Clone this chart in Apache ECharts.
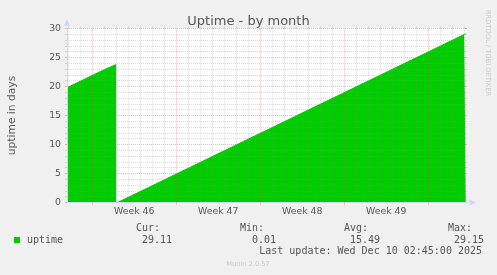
<!DOCTYPE html>
<html>
<head>
<meta charset="utf-8">
<script src="https://cdn.jsdelivr.net/npm/echarts@6/dist/echarts.min.js"></script>
<style>
html,body{margin:0;padding:0;background:#f0f0f0;}
#c{width:497px;height:275px;}
</style>
</head>
<body>
<div id="c"></div>
<script>
// time in days relative to start of Week 46
var days = [-2.1, -1, 0, 1, 2.0, 2.06, 2.12, 3, 4, 5, 6, 7, 8, 9, 10, 11, 12, 13, 14, 15, 16, 17, 18, 19, 20, 21, 22, 23, 24, 25, 26, 27, 28, 29, 30, 31, 31.13];
var uptime = [19.8, 20.9, 21.9, 22.9, 23.8, null, 0.01, 0.89, 1.89, 2.89, 3.90, 4.90, 5.90, 6.91, 7.91, 8.91, 9.91, 10.92, 11.92, 12.92, 13.93, 14.93, 15.93, 16.94, 17.94, 18.94, 19.94, 20.95, 21.95, 22.95, 23.96, 24.96, 25.96, 26.96, 27.97, 28.97, 29.11];
var weekStarts = [0, 7, 14, 21, 28];
var weekLabelPos = [3.5, 10.5, 17.5, 24.5];
var weekLabels = ['Week 46', 'Week 47', 'Week 48', 'Week 49'];
var dayLines = [-2, -1, 1, 2, 3, 4, 5, 6, 8, 9, 10, 11, 12, 13, 15, 16, 17, 18, 19, 20, 22, 23, 24, 25, 26, 27, 29, 30, 31];
var yTicks = [0, 5, 10, 15, 20, 25, 30];
var statHeaders = ['Cur:', 'Min:', 'Avg:', 'Max:'];
var statValues = ['29.11', '0.01', '15.49', '29.15'];
var seriesName = 'uptime';
var lastUpdate = 'Last update: Wed Dec 10 02:45:00 2025';

var X_MIN = -2.1, X_MAX = 31.233;
var MAJ = 'rgba(222,80,80,0.4)';
var MIN = 'rgba(143,143,143,0.32)';
var AX = '#CFD6F8';
var FONT = '#555555';

var data = days.map(function (d, i) { return [d, uptime[i]]; });

var graphics = [];
graphics.push({ type: 'rect', shape: { x: 14, y: 237, width: 6, height: 6 }, style: { fill: '#00CC00' } });
graphics.push({ type: 'text', style: { text: seriesName, x: 27, y: 240, font: '10px "DejaVu Sans Mono"', fill: FONT, verticalAlign: 'middle' } });
statHeaders.forEach(function (h, i) {
  graphics.push({ type: 'text', style: { text: h, x: 136 + 104 * i, y: 228, font: '10px "DejaVu Sans Mono"', fill: FONT, verticalAlign: 'middle' } });
  graphics.push({ type: 'text', style: { text: statValues[i], x: 172 + 104 * i, y: 240, font: '10px "DejaVu Sans Mono"', fill: FONT, align: 'right', verticalAlign: 'middle' } });
});
graphics.push({ type: 'text', style: { text: lastUpdate, x: 482, y: 251, font: '10px "DejaVu Sans Mono"', fill: FONT, align: 'right', verticalAlign: 'middle' } });
graphics.push({ type: 'text', style: { text: 'Munin 2.0.57', x: 248, y: 264.5, font: '6.7px "DejaVu Sans"', fill: '#c8c8c8', align: 'center', verticalAlign: 'middle' } });
graphics.push({ type: 'text', x: 488, y: 53, rotation: -Math.PI / 2, style: { text: 'RRDTOOL / TOBI OETIKER', x: 0, y: 0, font: '6.7px "DejaVu Sans"', fill: '#c8c8c8', align: 'center', verticalAlign: 'middle' } });

var chart = echarts.init(document.getElementById('c'), null, { renderer: 'canvas' });
chart.setOption({
  animation: false,
  backgroundColor: '#f0f0f0',
  title: {
    text: 'Uptime - by month', left: 'center', top: 10,
    textStyle: { fontFamily: 'DejaVu Sans', fontSize: 13, fontWeight: 'normal', color: FONT }
  },
  grid: { left: 67, right: 30, top: 28.5, bottom: 72.5, show: true, backgroundColor: '#ffffff', borderWidth: 0,
    containLabel: false, outerBoundsMode: 'none' },
  xAxis: [{
    type: 'value', min: X_MIN, max: X_MAX,
    axisLine: { show: true, onZero: false, lineStyle: { color: AX, width: 1 }, symbol: ['none', 'triangle'], symbolSize: [6, 7], symbolOffset: [0, 6] },
    axisTick: { show: true, customValues: weekStarts, length: 2, lineStyle: { color: MAJ } },
    axisLabel: { show: true, customValues: weekLabelPos, margin: 5, fontFamily: 'DejaVu Sans', fontSize: 9.3, color: FONT,
      formatter: function (v) { var i = weekLabelPos.indexOf(v); return i >= 0 ? weekLabels[i] : ''; } },
    splitLine: { show: true, lineStyle: { color: MAJ, type: [1, 1], width: 1 } },
    z: 3
  }, {
    type: 'value', min: X_MIN, max: X_MAX,
    axisLine: { show: false, onZero: false },
    axisTick: { show: true, customValues: dayLines, length: 2, lineStyle: { color: MIN } },
    axisLabel: { show: false },
    splitLine: { show: true, lineStyle: { color: MIN, type: [1, 1], width: 1 } },
    z: 2
  }],
  yAxis: [{
    type: 'value', min: 0, max: 30, interval: 5,
    name: 'uptime in days', nameLocation: 'middle', nameGap: 49, nameRotate: 90,
    nameTextStyle: { fontFamily: 'DejaVu Sans', fontSize: 10.7, color: FONT },
    axisLine: { show: true, onZero: false, lineStyle: { color: AX, width: 1 }, symbol: ['none', 'triangle'], symbolSize: [6, 7], symbolOffset: [0, 6] },
    axisTick: { show: true, length: 2, lineStyle: { color: MAJ } },
    minorTick: { show: true, splitNumber: 5, length: 2, lineStyle: { color: MIN } },
    axisLabel: { margin: 6, fontFamily: 'DejaVu Sans', fontSize: 9.3, color: FONT,
      formatter: function (v) { return yTicks.indexOf(v) >= 0 ? String(v) : ''; } },
    splitLine: { show: true, lineStyle: { color: MAJ, type: [1, 1], width: 1 } },
    minorSplitLine: { show: true, lineStyle: { color: MIN, type: [1, 1], width: 1 } },
    z: 3
  }, {
    type: 'value', min: 0, max: 30, interval: 5, position: 'right',
    axisLine: { show: false, onZero: false },
    axisTick: { show: true, inside: true, length: 2, lineStyle: { color: MAJ } },
    minorTick: { show: true, splitNumber: 5, length: 2, lineStyle: { color: MIN } },
    axisLabel: { show: false },
    splitLine: { show: false }
  }],
  series: [{
    name: seriesName, type: 'line', xAxisIndex: 0, yAxisIndex: 0,
    data: data, showSymbol: false, symbol: 'none', connectNulls: false,
    lineStyle: { color: '#00CC00', width: 1 },
    areaStyle: { color: '#00CC00', opacity: 1 },
    itemStyle: { color: '#00CC00' },
    z: 1
  }],
  graphic: graphics
});
</script>
</body>
</html>
